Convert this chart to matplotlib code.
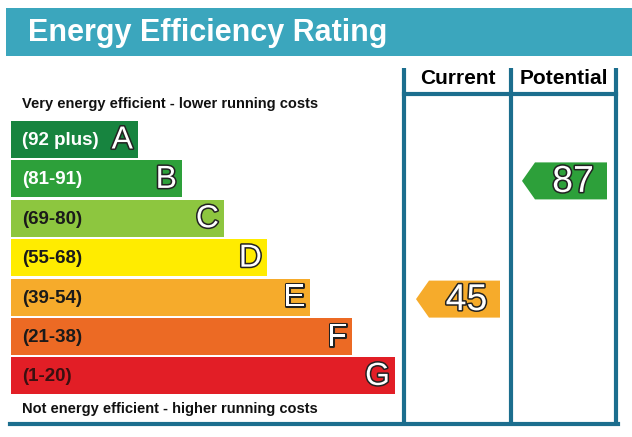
import matplotlib
matplotlib.use("Agg")
import matplotlib.pyplot as plt
import matplotlib.patheffects as pe
from matplotlib.patches import Polygon, Rectangle

plt.rcParams['font.family'] = ['Liberation Sans', 'DejaVu Sans']

# band data
letters = ['A', 'B', 'C', 'D', 'E', 'F', 'G']
ranges = ['(92 plus)', '(81-91)', '(69-80)', '(55-68)', '(39-54)', '(21-38)', '(1-20)']
lows = [92, 81, 69, 55, 39, 21, 1]
colors = ['#17843f', '#2da03a', '#8dc63f', '#ffec00', '#f6ab2b', '#ec6a24', '#e21e26']
text_colors = ['white', 'white', '#1a1a1a', '#1a1a1a', '#1a1a1a', '#1a1a1a', '#3a1010']
bar_right = [138, 182, 224, 267, 310, 352, 395]

current = 45
potential = 87

frame = '#1c6e8e'
teal = '#3ba6bd'


def band_of(score):
    for i, lo in enumerate(lows):
        if score >= lo:
            return i
    return len(lows) - 1


fig = plt.figure(figsize=(6.32, 4.37), dpi=100)
ax = fig.add_axes([0, 0, 1, 1])
ax.set_xlim(0, 632)
ax.set_ylim(437, 0)
ax.axis('off')

# header band
ax.add_patch(Rectangle((6, 8), 626, 48, color=teal, lw=0))
ax.text(28, 33, 'Energy Efficiency Rating', color='white', fontsize=22,
        fontweight='bold', va='center', ha='left')

# bars
row_y = [139.5 + 39.4 * i for i in range(len(letters))]
left = 11
widths = [r - left for r in bar_right]
ax.barh(row_y, widths, left=left, height=37, color=colors)

stroke = [pe.withStroke(linewidth=2.2, foreground='#222222')]
for i, (lt, rg) in enumerate(zip(letters, ranges)):
    ax.text(22, row_y[i] + 1, rg, color=text_colors[i], fontsize=13.5,
            fontweight='bold', va='center', ha='left')
    ax.text(bar_right[i] - 5, row_y[i] + 1, lt, color='white', fontsize=23,
            va='center', ha='right', path_effects=stroke)

ax.text(22, 104, 'Very energy efficient - lower running costs',
        fontsize=10.5, fontweight='bold', va='center', ha='left', color='#111111')
ax.text(22, 409, 'Not energy efficient - higher running costs',
        fontsize=10.5, fontweight='bold', va='center', ha='left', color='#111111')

# column frame
lw = 3
for x in [404, 511, 616]:
    ax.plot([x, x], [68, 424], color=frame, lw=lw, solid_capstyle='butt')
ax.plot([404, 616], [94, 94], color=frame, lw=lw)
ax.plot([10, 617.5], [424, 424], color=frame, lw=lw)

ax.text(458, 79, 'Current', fontsize=15, fontweight='bold', ha='center', va='center')
ax.text(564, 79, 'Potential', fontsize=15, fontweight='bold', ha='center', va='center')


def rating_arrow(score, x_tip, x_right):
    b = band_of(score)
    yc = row_y[b] + 2
    h = 37
    pts = [(x_tip, yc), (x_tip + 13, yc - h / 2), (x_right, yc - h / 2),
           (x_right, yc + h / 2), (x_tip + 13, yc + h / 2)]
    ax.add_patch(Polygon(pts, closed=True, color=colors[b], lw=0))
    ax.text((x_tip + 13 + x_right) / 2 + 2, yc + 1, str(score), color='white',
            fontsize=27, ha='center', va='center', path_effects=stroke)


rating_arrow(current, 416, 500)
rating_arrow(potential, 522, 607)

fig.savefig('out.png', dpi=100, facecolor='white')
